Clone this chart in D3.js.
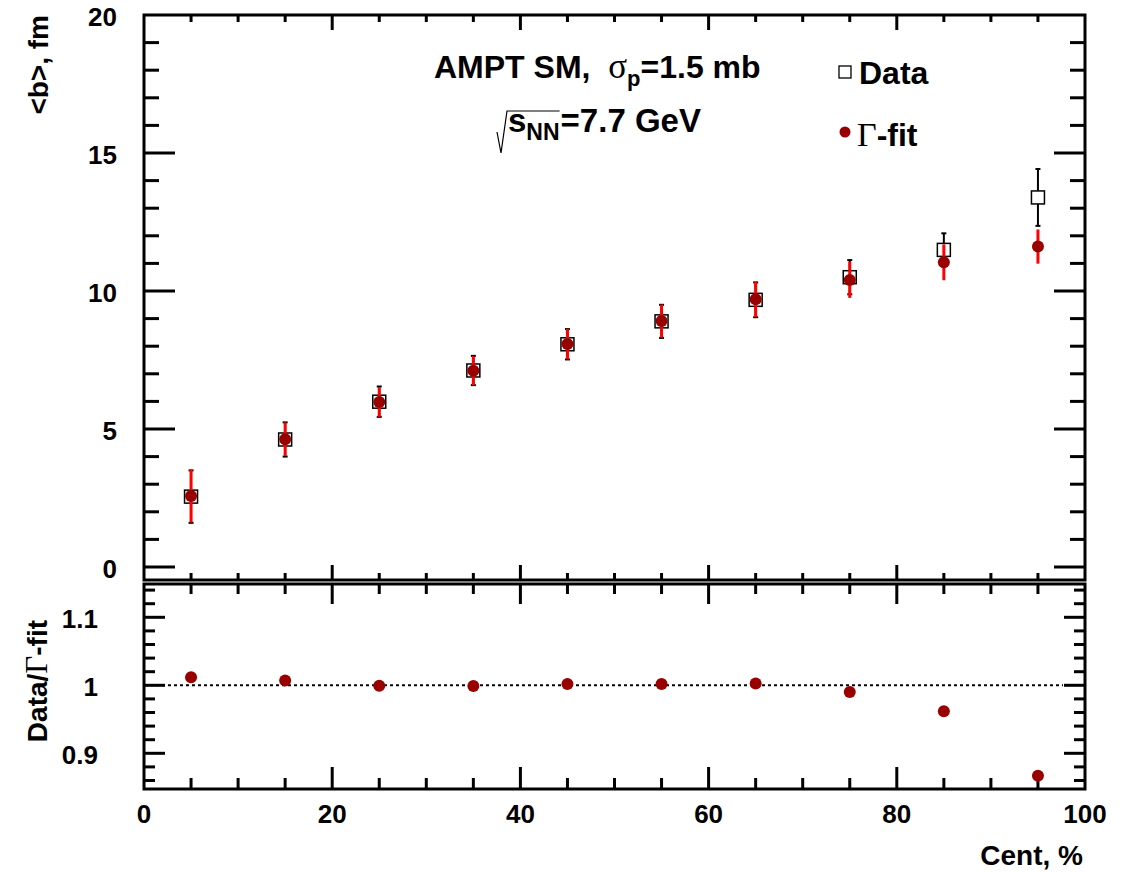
<!DOCTYPE html>
<html>
<head>
<meta charset="utf-8">
<script src="https://cdn.jsdelivr.net/npm/d3@7"></script>
<style>
  body { margin: 0; background: #fff; }
  text { font-family: "Liberation Sans", Arial, sans-serif; font-weight: bold; fill: #000; }
  .sym { font-family: "Liberation Serif", "Times New Roman", serif; font-weight: normal; }
</style>
</head>
<body>
<div class="chart"></div>
<script>
// centrality bins (bin centres, %)
var cent = [5, 15, 25, 35, 45, 55, 65, 75, 85, 95];

// <b> from data (open squares) and its errors
var dataB = [2.55, 4.62, 5.99, 7.12, 8.07, 8.90, 9.68, 10.50, 11.49, 13.39];
var dataErr = [0.95, 0.62, 0.55, 0.53, 0.55, 0.60, 0.63, 0.62, 0.60, 1.03];

// <b> from gamma fit (filled circles) and its errors
var fitB = [2.57, 4.63, 5.98, 7.11, 8.08, 8.91, 9.70, 10.40, 11.04, 11.61];
var fitErr = [0.96, 0.61, 0.54, 0.53, 0.55, 0.60, 0.65, 0.65, 0.65, 0.62];

// ratio panel
var ratio = [1.012, 1.007, 0.9995, 0.999, 1.002, 1.002, 1.0025, 0.990, 0.962, 0.867];

var xTicks = [0, 20, 40, 60, 80, 100];
var yTicksTop = [0, 5, 10, 15, 20];
var yTicksBot = [0.9, 1, 1.1];

var svgWidth = 1135, svgHeight = 872;
var left = 144, right = 1085;
var topY0 = 15, topY1 = 580;   // upper pad frame
var botY0 = 584, botY1 = 789;  // lower pad frame

var svg = d3.select(".chart").append("svg")
  .attr("width", svgWidth)
  .attr("height", svgHeight);

var x = d3.scaleLinear().domain([0, 100]).range([left, right]);
var yTop = d3.scaleLinear().domain([0, 20]).range([567, 15]);
var yBot = d3.scaleLinear().domain([0.9, 1.1]).range([753.3, 617.3]);

var darkRed = "#990000";

// frame + ticks for one pad
function drawFrame(y0, y1, yScale, yMin, yMax, yMajor, yMinor, lenY, lenX, lenXtop) {
  var g = svg.append("g");
  g.append("rect")
    .attr("x", left).attr("y", y0)
    .attr("width", right - left).attr("height", y1 - y0)
    .attr("fill", "none").attr("stroke", "#000").attr("stroke-width", 3);

  // y ticks, both sides
  var n = Math.round((yMax - yMin) / yMinor);
  for (var i = 0; i <= n; i++) {
    var v = yMin + i * yMinor;
    var py = yScale(v);
    if (py < y0 + 1 || py > y1 - 1) continue;
    var isMajor = Math.abs(v / yMajor - Math.round(v / yMajor)) < 1e-6;
    var len = isMajor ? lenY[0] : lenY[1];
    g.append("line").attr("x1", left).attr("x2", left + len).attr("y1", py).attr("y2", py)
      .attr("stroke", "#000").attr("stroke-width", 3);
    g.append("line").attr("x1", right).attr("x2", right - len).attr("y1", py).attr("y2", py)
      .attr("stroke", "#000").attr("stroke-width", 3);
  }

  // x ticks, top and bottom edges
  for (var xv = 5; xv < 100; xv += 5) {
    var px = x(xv);
    var maj = xv % 20 === 0;
    g.append("line").attr("x1", px).attr("x2", px)
      .attr("y1", y1).attr("y2", y1 - (maj ? lenX[0] : lenX[1]))
      .attr("stroke", "#000").attr("stroke-width", 3);
    g.append("line").attr("x1", px).attr("x2", px)
      .attr("y1", y0).attr("y2", y0 + (maj ? lenXtop[0] : lenXtop[1]))
      .attr("stroke", "#000").attr("stroke-width", 3);
  }
  return g;
}

drawFrame(topY0, topY1, yTop, -1, 20, 5, 1, [31, 15], [15, 7], [15, 7]);
drawFrame(botY0, botY1, yBot, 0.84, 1.16, 0.1, 0.02, [21, 11], [22, 11], [20, 10]);

// tick labels
svg.selectAll(".ylabTop").data(yTicksTop).enter().append("text")
  .attr("x", 117).attr("y", d => yTop(d) + 11)
  .attr("text-anchor", "end").attr("font-size", 26)
  .text(d => d);

svg.selectAll(".ylabBot").data(yTicksBot).enter().append("text")
  .attr("x", 98).attr("y", d => yBot(d) + 11)
  .attr("text-anchor", "end").attr("font-size", 26)
  .text(d => d);

svg.selectAll(".xlab").data(xTicks).enter().append("text")
  .attr("x", d => x(d)).attr("y", 823)
  .attr("text-anchor", "middle").attr("font-size", 26)
  .text(d => d);

// axis titles
svg.append("text")
  .attr("x", 1083).attr("y", 865)
  .attr("text-anchor", "end").attr("font-size", 28)
  .text("Cent, %");

svg.append("text")
  .attr("transform", "translate(48,15) rotate(-90)")
  .attr("text-anchor", "end").attr("font-size", 28)
  .text("<b>, fm");

var rt = svg.append("text")
  .attr("transform", "translate(47,620) rotate(-90)")
  .attr("text-anchor", "end").attr("font-size", 28);
rt.append("tspan").text("Data/");
rt.append("tspan").attr("class", "sym").attr("font-size", 31).text("\u0393");
rt.append("tspan").text("-fit");

// dotted line at 1
svg.append("line")
  .attr("x1", left).attr("x2", right - 22)
  .attr("y1", yBot(1)).attr("y2", yBot(1))
  .attr("stroke", "#000").attr("stroke-width", 2)
  .attr("stroke-dasharray", "3,3");

// data: black error bars split around the square
var half = 6.5;
var dataG = svg.append("g");
cent.forEach(function(c, i) {
  var px = x(c), py = yTop(dataB[i]);
  var hi = yTop(dataB[i] + dataErr[i]), lo = yTop(dataB[i] - dataErr[i]);
  dataG.append("line").attr("x1", px).attr("x2", px).attr("y1", hi).attr("y2", py - half)
    .attr("stroke", "#000").attr("stroke-width", 2);
  dataG.append("line").attr("x1", px).attr("x2", px).attr("y1", py + half).attr("y2", lo)
    .attr("stroke", "#000").attr("stroke-width", 2);
  [hi, lo].forEach(function(e) {
    dataG.append("line").attr("x1", px - 2.5).attr("x2", px + 2.5).attr("y1", e).attr("y2", e)
      .attr("stroke", "#000").attr("stroke-width", 2);
  });
});
dataG.selectAll("rect").data(cent).enter().append("rect")
  .attr("x", d => x(d) - half)
  .attr("y", (d, i) => yTop(dataB[i]) - half)
  .attr("width", half * 2).attr("height", half * 2)
  .attr("fill", "#fff").attr("stroke", "#000").attr("stroke-width", 1.5);

// gamma fit: red error bars + dark red circles
var fitG = svg.append("g");
fitG.selectAll("line").data(cent).enter().append("line")
  .attr("x1", d => x(d)).attr("x2", d => x(d))
  .attr("y1", (d, i) => yTop(fitB[i] + fitErr[i]))
  .attr("y2", (d, i) => yTop(fitB[i] - fitErr[i]))
  .attr("stroke", "#ff0000").attr("stroke-width", 3);
fitG.selectAll("circle").data(cent).enter().append("circle")
  .attr("cx", d => x(d))
  .attr("cy", (d, i) => yTop(fitB[i]))
  .attr("r", 6)
  .attr("fill", darkRed);

// ratio points
svg.append("g").selectAll("circle").data(cent).enter().append("circle")
  .attr("cx", d => x(d))
  .attr("cy", (d, i) => yBot(ratio[i]))
  .attr("r", 6)
  .attr("fill", darkRed);

// labels in the upper pad
var t1 = svg.append("text").attr("x", 434).attr("y", 78).attr("font-size", 32)
  .attr("xml:space", "preserve");
t1.append("tspan").text("AMPT SM,  ");
t1.append("tspan").attr("class", "sym").attr("font-size", 35).text("\u03c3");
t1.append("tspan").attr("font-size", 22).attr("dy", 8).text("p");
t1.append("tspan").attr("dy", -8).text("=1.5 mb");

var sx = 508, sy = 132;
var sNN = svg.append("text").attr("x", sx).attr("y", sy).attr("font-size", 33);
sNN.append("tspan").text("s");
sNN.append("tspan").attr("font-size", 23).attr("dy", 8).text("NN");
var sEnd = sx + sNN.node().getComputedTextLength();
svg.append("text").attr("x", sEnd + 1).attr("y", sy).attr("font-size", 33).text("=7.7 GeV");
svg.append("path")
  .attr("d", d3.line()([[497, 132], [501, 153], [507, 111], [sEnd, 111]]))
  .attr("fill", "none").attr("stroke", "#000").attr("stroke-width", 1.2);

// legend
svg.append("rect").attr("x", 839).attr("y", 66).attr("width", 12).attr("height", 12)
  .attr("fill", "#fff").attr("stroke", "#000").attr("stroke-width", 1.3);
svg.append("text").attr("x", 859).attr("y", 84).attr("font-size", 32).text("Data");
svg.append("circle").attr("cx", 845).attr("cy", 132).attr("r", 5.5).attr("fill", darkRed);
var lg = svg.append("text").attr("x", 857).attr("y", 146).attr("font-size", 32);
lg.append("tspan").attr("class", "sym").attr("font-size", 34).text("\u0393");
lg.append("tspan").text("-fit");
</script>
</body>
</html>
